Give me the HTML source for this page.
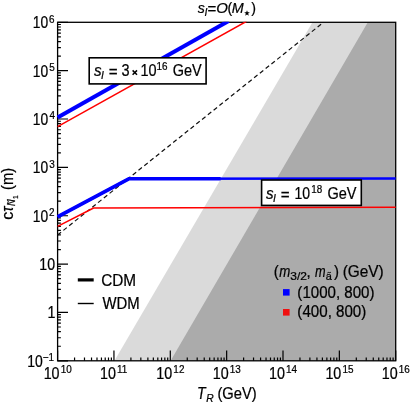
<!DOCTYPE html>
<html><head><meta charset="utf-8"><title>plot</title>
<style>html,body{margin:0;padding:0;background:#fff;}body{width:411px;height:405px;overflow:hidden;font-family:"Liberation Sans",sans-serif;}svg{display:block;will-change:transform;}</style>
</head><body>
<svg width="411" height="405" viewBox="0 0 411 405" font-family="Liberation Sans, sans-serif" fill="#000"><style>text{stroke:#000;stroke-width:0.22px;}</style>
<rect width="411" height="405" fill="#fff"/>
<defs><clipPath id="c2"><rect x="57.0" y="21.7" width="339.29999999999995" height="339.7"/></clipPath><clipPath id="c"><rect x="57.6" y="22.3" width="338.09999999999997" height="338.5"/></clipPath></defs>
<g clip-path="url(#c)">
<polygon points="114.45,360.8 312.48,22.3 395.7,22.3 395.7,360.8" fill="#dadada"/>
<polygon points="170.60,360.8 367.82,22.3 395.7,22.3 395.7,360.8" fill="#ababab"/>
</g>
<path d="M57.60,360.8v-10.4 M74.56,360.8v-3.3 M84.49,360.8v-3.3 M91.53,360.8v-3.3 M96.99,360.8v-3.3 M101.45,360.8v-3.3 M105.22,360.8v-3.3 M108.49,360.8v-3.3 M111.37,360.8v-3.3 M113.95,360.8v-10.4 M130.91,360.8v-3.3 M140.84,360.8v-3.3 M147.88,360.8v-3.3 M153.34,360.8v-3.3 M157.80,360.8v-3.3 M161.57,360.8v-3.3 M164.84,360.8v-3.3 M167.72,360.8v-3.3 M170.30,360.8v-10.4 M187.26,360.8v-3.3 M197.19,360.8v-3.3 M204.23,360.8v-3.3 M209.69,360.8v-3.3 M214.15,360.8v-3.3 M217.92,360.8v-3.3 M221.19,360.8v-3.3 M224.07,360.8v-3.3 M226.65,360.8v-10.4 M243.61,360.8v-3.3 M253.54,360.8v-3.3 M260.58,360.8v-3.3 M266.04,360.8v-3.3 M270.50,360.8v-3.3 M274.27,360.8v-3.3 M277.54,360.8v-3.3 M280.42,360.8v-3.3 M283.00,360.8v-10.4 M299.96,360.8v-3.3 M309.89,360.8v-3.3 M316.93,360.8v-3.3 M322.39,360.8v-3.3 M326.85,360.8v-3.3 M330.62,360.8v-3.3 M333.89,360.8v-3.3 M336.77,360.8v-3.3 M339.35,360.8v-10.4 M356.31,360.8v-3.3 M366.24,360.8v-3.3 M373.28,360.8v-3.3 M378.74,360.8v-3.3 M383.20,360.8v-3.3 M386.97,360.8v-3.3 M390.24,360.8v-3.3 M393.12,360.8v-3.3 M395.70,360.8v-10.4 M57.6,360.80h10.4 M57.6,346.24h3.3 M57.6,337.73h3.3 M57.6,331.69h3.3 M57.6,327.00h3.3 M57.6,323.17h3.3 M57.6,319.93h3.3 M57.6,317.13h3.3 M57.6,314.66h3.3 M57.6,312.44h10.4 M57.6,297.89h3.3 M57.6,289.37h3.3 M57.6,283.33h3.3 M57.6,278.64h3.3 M57.6,274.81h3.3 M57.6,271.58h3.3 M57.6,268.77h3.3 M57.6,266.30h3.3 M57.6,264.09h10.4 M57.6,249.53h3.3 M57.6,241.01h3.3 M57.6,234.97h3.3 M57.6,230.29h3.3 M57.6,226.46h3.3 M57.6,223.22h3.3 M57.6,220.41h3.3 M57.6,217.94h3.3 M57.6,215.73h10.4 M57.6,201.17h3.3 M57.6,192.66h3.3 M57.6,186.61h3.3 M57.6,181.93h3.3 M57.6,178.10h3.3 M57.6,174.86h3.3 M57.6,172.06h3.3 M57.6,169.58h3.3 M57.6,167.37h10.4 M57.6,152.81h3.3 M57.6,144.30h3.3 M57.6,138.26h3.3 M57.6,133.57h3.3 M57.6,129.74h3.3 M57.6,126.50h3.3 M57.6,123.70h3.3 M57.6,121.23h3.3 M57.6,119.01h10.4 M57.6,104.46h3.3 M57.6,95.94h3.3 M57.6,89.90h3.3 M57.6,85.21h3.3 M57.6,81.39h3.3 M57.6,78.15h3.3 M57.6,75.34h3.3 M57.6,72.87h3.3 M57.6,70.66h10.4 M57.6,56.10h3.3 M57.6,47.58h3.3 M57.6,41.54h3.3 M57.6,36.86h3.3 M57.6,33.03h3.3 M57.6,29.79h3.3 M57.6,26.99h3.3 M57.6,24.51h3.3 M57.6,22.30h10.4" stroke="#000" stroke-width="1.2" fill="none"/>
<rect x="57.6" y="22.3" width="338.09999999999997" height="338.5" fill="none" stroke="#000" stroke-width="1.3"/>
<g clip-path="url(#c2)">
<line x1="57.6" y1="235" x2="323.5" y2="22.3" stroke="#111" stroke-width="1.2" stroke-dasharray="4.4,3.0"/>
<line x1="57.6" y1="126.6" x2="246.6" y2="21.3" stroke="#ff0000" stroke-width="1.5"/>
<line x1="57.6" y1="117.4" x2="228.6" y2="21.0" stroke="#0000ff" stroke-width="4.0"/>
<polyline points="57.6,226.4 93.6,208.0 395.7,207.2" fill="none" stroke="#ff0000" stroke-width="1.5" stroke-linejoin="round"/>
<polyline points="57.6,216.8 129.2,178.7 395.7,178.6" fill="none" stroke="#0000ff" stroke-width="2.5" stroke-linejoin="round"/>
<polyline points="57.6,216.8 129.2,178.7 220.6,178.7" fill="none" stroke="#0000ff" stroke-width="3.6" stroke-linejoin="round"/>
</g>
<text transform="translate(43.63,378.70) scale(0.9550,1.04)" font-size="15.0" fill="#000">10</text>
<text transform="translate(60.66,372.80) scale(0.9550,1.04)" font-size="10.4" fill="#000">10</text>
<text transform="translate(99.98,378.70) scale(0.9550,1.04)" font-size="15.0" fill="#000">10</text>
<text transform="translate(117.01,372.80) scale(0.9550,1.04)" font-size="10.4" fill="#000">11</text>
<text transform="translate(156.33,378.70) scale(0.9550,1.04)" font-size="15.0" fill="#000">10</text>
<text transform="translate(173.36,372.80) scale(0.9550,1.04)" font-size="10.4" fill="#000">12</text>
<text transform="translate(212.68,378.70) scale(0.9550,1.04)" font-size="15.0" fill="#000">10</text>
<text transform="translate(229.71,372.80) scale(0.9550,1.04)" font-size="10.4" fill="#000">13</text>
<text transform="translate(269.03,378.70) scale(0.9550,1.04)" font-size="15.0" fill="#000">10</text>
<text transform="translate(286.06,372.80) scale(0.9550,1.04)" font-size="10.4" fill="#000">14</text>
<text transform="translate(325.38,378.70) scale(0.9550,1.04)" font-size="15.0" fill="#000">10</text>
<text transform="translate(342.41,372.80) scale(0.9550,1.04)" font-size="10.4" fill="#000">15</text>
<text transform="translate(381.73,378.70) scale(0.9550,1.04)" font-size="15.0" fill="#000">10</text>
<text transform="translate(398.76,372.80) scale(0.9550,1.04)" font-size="10.4" fill="#000">16</text>
<text transform="translate(32.76,221.63) scale(0.9223,1.04)" font-size="15.0" fill="#000">10</text>
<text transform="translate(49.10,215.93) scale(0.9550,1.04)" font-size="10.4" fill="#000">2</text>
<text transform="translate(32.76,173.27) scale(0.9223,1.04)" font-size="15.0" fill="#000">10</text>
<text transform="translate(49.23,167.57) scale(0.9550,1.04)" font-size="10.4" fill="#000">3</text>
<text transform="translate(32.76,124.91) scale(0.9223,1.04)" font-size="15.0" fill="#000">10</text>
<text transform="translate(49.38,119.21) scale(0.9550,1.04)" font-size="10.4" fill="#000">4</text>
<text transform="translate(32.76,76.56) scale(0.9223,1.04)" font-size="15.0" fill="#000">10</text>
<text transform="translate(49.20,70.86) scale(0.9550,1.04)" font-size="10.4" fill="#000">5</text>
<text transform="translate(32.76,28.20) scale(0.9223,1.04)" font-size="15.0" fill="#000">10</text>
<text transform="translate(49.10,22.50) scale(0.9550,1.04)" font-size="10.4" fill="#000">6</text>
<text transform="translate(39.34,269.69) scale(0.9424,1.04)" font-size="15.0" fill="#000">10</text>
<text transform="translate(47.53,318.24) scale(0.9550,1.04)" font-size="15.0" fill="#000">1</text>
<text transform="translate(27.25,367.40) scale(0.9290,1.04)" font-size="15.0" fill="#000">10</text>
<text transform="translate(42.70,361.20) scale(0.9550,1.04)" font-size="10.4" fill="#000">−1</text>
<text transform="translate(197.66,13.10) scale(1.0000,1.04)" font-size="14.2" font-style="italic" fill="#000">s</text>
<text transform="translate(204.38,16.10) scale(1.0000,1.04)" font-size="10.5" font-style="italic" fill="#000">I</text>
<text transform="translate(207.45,13.70) scale(1.0600,1.04)" font-size="14.2" fill="#000">=</text>
<text transform="translate(216.18,13.10) scale(1.0538,1.04)" font-size="14.2" font-style="italic" fill="#000">O</text>
<text transform="translate(227.41,13.10) scale(1.0000,1.04)" font-size="14.2" fill="#000">(</text>
<text transform="translate(231.87,13.10) scale(1.0092,1.04)" font-size="14.2" font-style="italic" fill="#000">M</text>
<polygon points="247.00,10.20 247.74,12.18 249.85,12.27 248.20,13.59 248.76,15.63 247.00,14.46 245.24,15.63 245.80,13.59 244.15,12.27 246.26,12.18" fill="#000"/>
<text transform="translate(251.19,13.10) scale(1.0000,1.04)" font-size="14.2" fill="#000">)</text>
<text transform="translate(197.03,399.20) scale(0.9425,1.04)" font-size="15" font-style="italic" fill="#000">T</text>
<text transform="translate(206.29,401.70) scale(1.0264,1.04)" font-size="10" font-style="italic" fill="#000">R</text>
<text transform="translate(217.38,399.20) scale(0.9807,1.04)" font-size="15" fill="#000">(GeV)</text>
<g transform="translate(13.0,219.0) rotate(-90)">
<text transform="translate(-0.68,0.00) scale(1.0698,1.04)" font-size="15" fill="#000">c</text>
<text transform="translate(7.18,0.00) scale(0.9290,1.04)" font-size="15" font-style="italic" fill="#000">τ</text>
<text transform="translate(13.02,2.40) scale(0.8973,1.04)" font-size="10.3" font-style="italic" fill="#000">N</text>
<path d="M14.8,-4.4 q1.0,-1.5 2.05,-0.6 t2.05,-0.6" stroke="#000" stroke-width="1.0" fill="none"/>
<text transform="translate(19.91,5.00) scale(1.0000,1.04)" font-size="6.5" fill="#000">1</text>
<text transform="translate(28.98,0.00) scale(0.9812,1.04)" font-size="15" fill="#000">(m)</text>
</g>
<rect x="89.2" y="57.8" width="116.9" height="26.1" fill="#fff" stroke="#000" stroke-width="1.6"/>
<text transform="translate(94.06,76.20) scale(1.0000,1.04)" font-size="15.2" font-style="italic" fill="#000">s</text>
<text transform="translate(100.88,79.20) scale(1.0000,1.04)" font-size="10.4" font-style="italic" fill="#000">I</text>
<text transform="translate(108.64,77.00) scale(1.0000,1.04)" font-size="15.2" fill="#000">=</text>
<text transform="translate(121.56,76.20) scale(0.9550,1.04)" font-size="15.2" fill="#000">3</text>
<path d="M132.6,70.4l4.4,4.4m0,-4.4l-4.4,4.4" stroke="#000" stroke-width="1.5" fill="none"/>
<text transform="translate(140.51,76.20) scale(0.9550,1.04)" font-size="15.2" fill="#000">10</text>
<text transform="translate(156.46,69.90) scale(0.9550,1.04)" font-size="10.4" fill="#000">16</text>
<text transform="translate(172.68,76.20) scale(0.9526,1.04)" font-size="15.2" fill="#000">GeV</text>
<rect x="261.6" y="180.0" width="99.7" height="25.4" fill="#fff" stroke="#000" stroke-width="1.6"/>
<text transform="translate(266.06,198.90) scale(1.0000,1.04)" font-size="15.2" font-style="italic" fill="#000">s</text>
<text transform="translate(272.88,201.90) scale(1.0000,1.04)" font-size="10.4" font-style="italic" fill="#000">I</text>
<text transform="translate(280.64,199.70) scale(1.0000,1.04)" font-size="15.2" fill="#000">=</text>
<text transform="translate(294.45,198.90) scale(0.9234,1.04)" font-size="15.2" fill="#000">10</text>
<text transform="translate(311.36,192.60) scale(0.9494,1.04)" font-size="10.4" fill="#000">18</text>
<text transform="translate(327.47,198.90) scale(0.9560,1.04)" font-size="15.2" fill="#000">GeV</text>
<line x1="77.8" y1="279.9" x2="93.7" y2="279.9" stroke="#000" stroke-width="3.2"/>
<text transform="translate(101.13,285.80) scale(0.9960,1.04)" font-size="15.4" fill="#000">CDM</text>
<line x1="77.8" y1="303.5" x2="93.7" y2="303.5" stroke="#000" stroke-width="1.4"/>
<text transform="translate(102.43,309.10) scale(0.9800,1.04)" font-size="15.2" fill="#000">WDM</text>
<text transform="translate(273.86,277.00) scale(1.0000,1.04)" font-size="15" fill="#000">(</text>
<text transform="translate(279.17,277.00) scale(0.8831,1.04)" font-size="15" font-style="italic" fill="#000">m</text>
<text transform="translate(290.35,280.10) scale(1.1516,1.04)" font-size="10.4" fill="#000">3/2</text>
<text transform="translate(306.45,277.00) scale(1.0000,1.04)" font-size="15" fill="#000">,</text>
<text transform="translate(314.88,277.00) scale(0.8485,1.04)" font-size="15" font-style="italic" fill="#000">m</text>
<text transform="translate(325.84,280.10) scale(1.0927,1.04)" font-size="10.0" fill="#000">a</text>
<path d="M327.3,273.1 q0.9,-1.2 1.8,-0.5 t1.8,-0.5" stroke="#000" stroke-width="0.9" fill="none"/>
<text transform="translate(333.89,277.00) scale(1.0000,1.04)" font-size="15" fill="#000">)</text>
<text transform="translate(342.64,277.00) scale(1.0279,1.04)" font-size="15" fill="#000">(GeV)</text>
<rect x="283" y="289.1" width="6.6" height="6.5" fill="#0000ff"/>
<text transform="translate(297.36,297.60) scale(1.0060,1.04)" font-size="15" fill="#000">(1000, 800)</text>
<rect x="283" y="309" width="6.6" height="6.6" fill="#f01010"/>
<text transform="translate(297.35,317.30) scale(1.0092,1.04)" font-size="15" fill="#000">(400, 800)</text>
</svg>
</body></html>
